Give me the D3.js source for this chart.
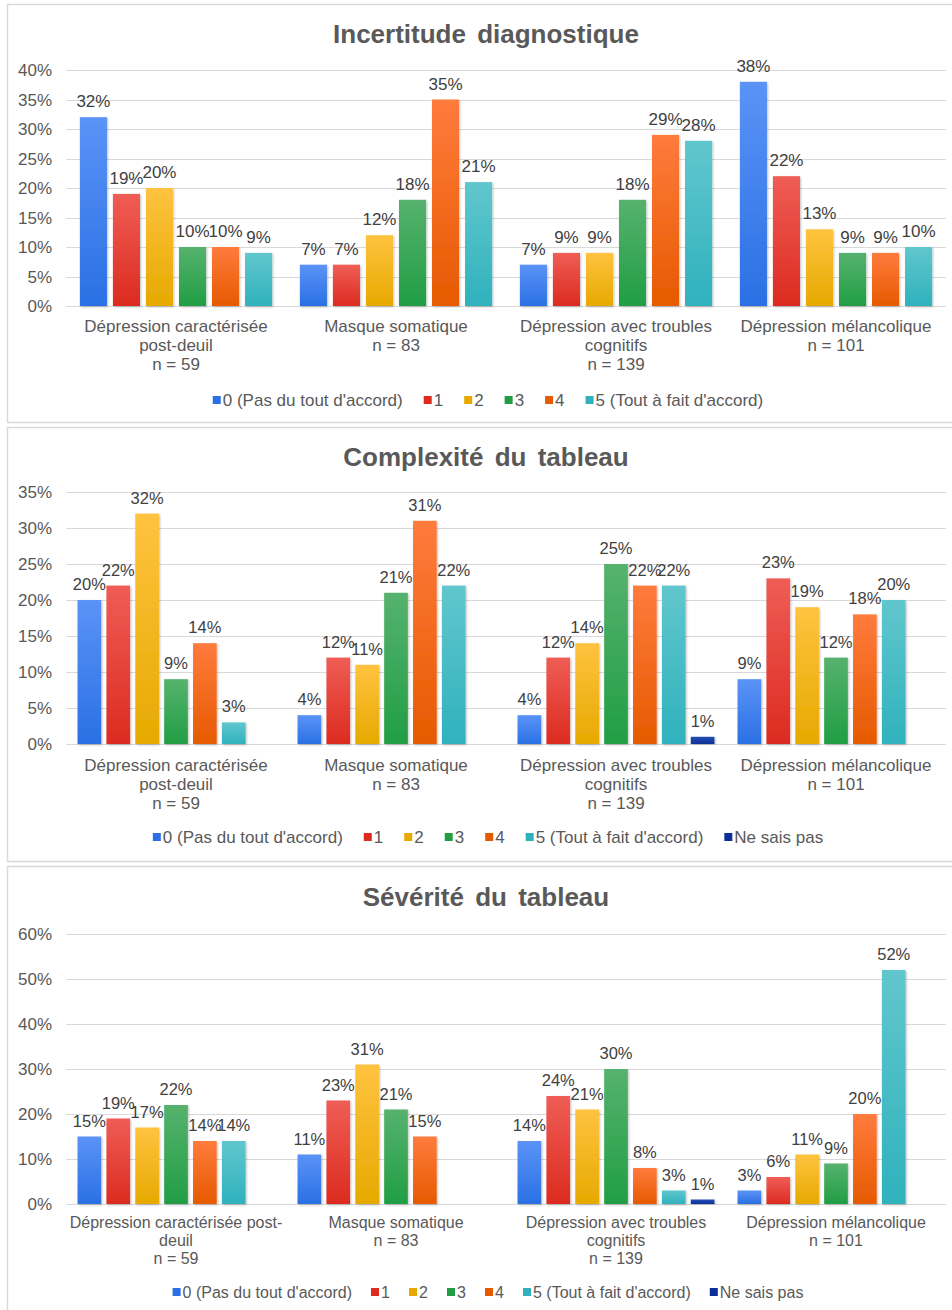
<!DOCTYPE html>
<html>
<head>
<meta charset="utf-8">
<script src="https://cdn.jsdelivr.net/npm/d3@7"></script>
<style>
  body { margin: 0; background: #fff; }
  svg { display: block; font-family: "Liberation Sans", Arial, sans-serif; }
</style>
</head>
<body>
<svg id="chart" width="952" height="1310"></svg>
<script>
// series (legend) names
var seriesNames = ["0 (Pas du tout d'accord)", '1', '2', '3', '4', '5 (Tout à fait d\'accord)', 'Ne sais pas']

// category labels, one array of lines per group
var categories = [
  ['Dépression caractérisée', 'post-deuil', 'n = 59'],
  ['Masque somatique', 'n = 83'],
  ['Dépression avec troubles', 'cognitifs', 'n = 139'],
  ['Dépression mélancolique', 'n = 101']
]
var categoriesSev = [
  ['Dépression caractérisée post-', 'deuil', 'n = 59'],
  ['Masque somatique', 'n = 83'],
  ['Dépression avec troubles', 'cognitifs', 'n = 139'],
  ['Dépression mélancolique', 'n = 101']
]

// values in %, one row per group, one column per series
var incertitude = [
  [32, 19, 20, 10, 10, 9],
  [7, 7, 12, 18, 35, 21],
  [7, 9, 9, 18, 29, 28],
  [38, 22, 13, 9, 9, 10]
]
var complexite = [
  [20, 22, 32, 9, 14, 3, 0],
  [4, 12, 11, 21, 31, 22, 0],
  [4, 12, 14, 25, 22, 22, 1],
  [9, 23, 19, 12, 18, 20, 0]
]
var severite = [
  [15, 19, 17, 22, 14, 14, 0],
  [11, 23, 31, 21, 15, 0, 0],
  [14, 24, 21, 30, 8, 3, 1],
  [3, 6, 11, 9, 20, 52, 0]
]

var ticks1 = [0, 5, 10, 15, 20, 25, 30, 35, 40]
var ticks2 = [0, 5, 10, 15, 20, 25, 30, 35]
var ticks3 = [0, 10, 20, 30, 40, 50, 60]

// gradient colours (top, bottom)
var colors = [
  ['#5b93f7', '#2a70e4'],
  ['#ef5d55', '#dc2b20'],
  ['#ffc340', '#e6a900'],
  ['#56b26e', '#219e44'],
  ['#ff7b3d', '#e65a00'],
  ['#61c6cd', '#2fb2bd'],
  ['#2550b8', '#0a2f96']
]

var FS = 17

var svg = d3.select('#chart')
var defs = svg.append('defs')
colors.forEach(function (c, i) {
  var g = defs.append('linearGradient').attr('id', 'grad' + i)
    .attr('x1', 0).attr('y1', 0).attr('x2', 0).attr('y2', 1)
  g.append('stop').attr('offset', '0%').attr('stop-color', c[0])
  g.append('stop').attr('offset', '100%').attr('stop-color', c[1])
})
var f = defs.append('filter').attr('id', 'shadow')
  .attr('x', '-20%').attr('y', '-5%').attr('width', '150%').attr('height', '115%')
f.append('feDropShadow').attr('dx', 1).attr('dy', 1).attr('stdDeviation', 1)
  .attr('flood-color', '#000').attr('flood-opacity', 0.25)

function drawPanel (p) {
  var g = svg.append('g')

  g.append('rect')
    .attr('x', 7.5).attr('y', p.top + 0.5)
    .attr('width', 980).attr('height', p.bottom - p.top)
    .attr('fill', '#fff').attr('stroke', '#d9d9d9').attr('stroke-width', 1.5)

  g.append('text')
    .attr('x', 486).attr('y', p.titleY)
    .attr('text-anchor', 'middle')
    .attr('font-size', 26).attr('font-weight', 'bold')
    .attr('fill', '#595959')
    .attr('word-spacing', 4)
    .text(p.title)

  var x0 = d3.scaleBand().domain(d3.range(p.cats.length)).range([66, 946])
  var nSeries = p.values[0].length
  var x1 = d3.scaleBand().domain(d3.range(nSeries)).range([0, x0.bandwidth()])
    .paddingInner(0.18).paddingOuter(nSeries === 6 ? 0.42 : 0.4)
  var y = d3.scaleLinear().domain([0, d3.max(p.ticks)]).range([p.y0, p.yTop])

  // gridlines
  g.append('g').selectAll('line').data(p.ticks).join('line')
    .attr('x1', 66).attr('x2', 946)
    .attr('y1', function (d) { return Math.round(y(d)) + 0.5 })
    .attr('y2', function (d) { return Math.round(y(d)) + 0.5 })
    .attr('stroke', '#d9d9d9').attr('stroke-width', 1)

  // y tick labels
  g.append('g').selectAll('text').data(p.ticks).join('text')
    .attr('x', 52).attr('y', function (d) { return y(d) + 6 })
    .attr('text-anchor', 'end')
    .attr('font-size', FS).attr('fill', '#595959')
    .text(function (d) { return d + '%' })

  var groups = g.append('g').selectAll('g').data(p.values).join('g')
    .attr('transform', function (d, i) { return 'translate(' + x0(i) + ',0)' })

  groups.selectAll('rect')
    .data(function (d) { return d.map(function (v, j) { return { v: v, j: j } }) })
    .join('rect')
    .filter(function (d) { return d.v > 0 })
    .attr('x', function (d) { return x1(d.j) })
    .attr('y', function (d) { return y(d.v) })
    .attr('width', x1.bandwidth())
    .attr('height', function (d) { return p.y0 - y(d.v) })
    .attr('fill', function (d) { return 'url(#grad' + d.j + ')' })
    .attr('filter', 'url(#shadow)')

  groups.selectAll('text')
    .data(function (d) { return d.map(function (v, j) { return { v: v, j: j } }).filter(function (d) { return d.v > 0 }) })
    .join('text')
    .attr('x', function (d) { return x1(d.j) + x1.bandwidth() / 2 })
    .attr('y', function (d) { return y(d.v) - 10 })
    .attr('text-anchor', 'middle')
    .attr('font-size', p.valFs).attr('fill', '#404040')
    .text(function (d) { return d.v + '%' })

  // category labels
  g.append('g').selectAll('text').data(p.cats).join('text')
    .attr('x', function (d, i) { return x0(i) + x0.bandwidth() / 2 })
    .attr('y', p.catY)
    .attr('text-anchor', 'middle')
    .attr('font-size', p.catFs).attr('fill', '#595959')
    .each(function (d) {
      d3.select(this).selectAll('tspan').data(d).join('tspan')
        .attr('x', d3.select(this).attr('x'))
        .attr('dy', function (t, k) { return k === 0 ? 0 : p.lineH })
        .text(function (t) { return t })
    })

  // legend, centred
  var names = seriesNames.slice(0, nSeries)
  var leg = g.append('g')
  var items = leg.selectAll('g').data(names).join('g')
  items.append('rect').attr('width', 8).attr('height', 8).attr('y', -4)
    .attr('fill', function (d, i) { return colors[i][1] })
  items.append('text').attr('x', 10).attr('y', 6)
    .attr('font-size', p.catFs).attr('fill', '#595959')
    .text(function (d) { return d })
  var gap = p.legGap
  var pos = 0
  items.each(function () {
    var w = this.getBBox().width
    d3.select(this).attr('data-x', pos)
    pos += w + gap
  })
  var total = pos - gap
  var start = 488 - total / 2
  items.attr('transform', function () {
    return 'translate(' + (start + (+d3.select(this).attr('data-x'))) + ',' + p.legY + ')'
  })
}

drawPanel({
  title: 'Incertitude diagnostique', top: 4, bottom: 422, titleY: 43,
  values: incertitude, cats: categories, ticks: ticks1,
  y0: 306, yTop: 70, catY: 332, lineH: 19, legY: 400,
  catFs: 17, valFs: 17, legGap: 21
})
drawPanel({
  title: 'Complexité du tableau', top: 427, bottom: 861, titleY: 466,
  values: complexite, cats: categories, ticks: ticks2,
  y0: 744, yTop: 492, catY: 771, lineH: 19, legY: 837,
  catFs: 17, valFs: 16.5, legGap: 21
})
drawPanel({
  title: 'Sévérité du tableau', top: 866, bottom: 1330, titleY: 906,
  values: severite, cats: categoriesSev, ticks: ticks3,
  y0: 1204, yTop: 934, catY: 1228, lineH: 18, legY: 1292,
  catFs: 16, valFs: 16.5, legGap: 19
})
</script>
</body>
</html>
